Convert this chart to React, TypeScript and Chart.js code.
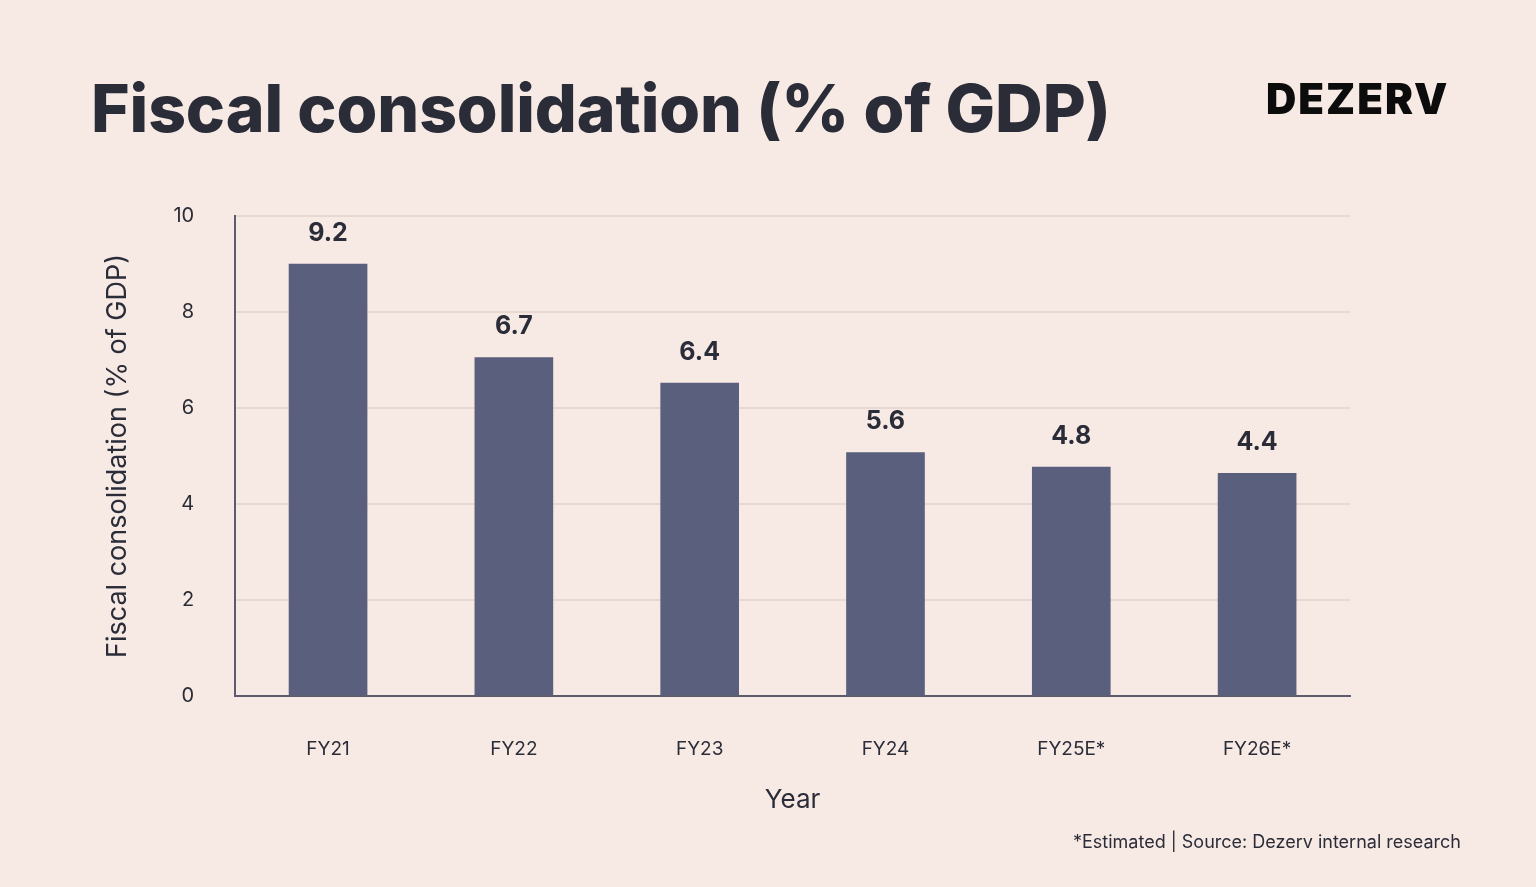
import React, { useEffect, useRef } from "react";
import { Chart, registerables } from "chart.js";

Chart.register(...registerables);

const categories = ["FY21", "FY22", "FY23", "FY24", "FY25E*", "FY26E*"];
const barValues = [9.0, 7.05, 6.52, 5.07, 4.77, 4.64];
const valueLabels = ["9.2", "6.7", "6.4", "5.6", "4.8", "4.4"];
const yTicks = [0, 2, 4, 6, 8, 10];

const BG = "#f7e9e4";
const BAR = "#5b5f7e";
const DARK = "#2a2c38";
const FONT = "Inter, 'Open Sans', sans-serif";

const labelPlugin = {
  id: "valueLabels",
  afterDatasetsDraw(chart: any) {
    const { ctx } = chart;
    const meta = chart.getDatasetMeta(0);
    ctx.save();
    ctx.fillStyle = DARK;
    ctx.font = `700 25px ${FONT}`;
    ctx.textAlign = "center";
    ctx.textBaseline = "middle";
    meta.data.forEach((el: any, i: number) => {
      ctx.fillText(valueLabels[i], el.x, el.y - 31);
    });
    ctx.restore();
  },
};

export default function App() {
  const ref = useRef<HTMLCanvasElement>(null);
  useEffect(() => {
    document.body.style.margin = "0";
    const chart = new Chart(ref.current!, {
      type: "bar",
      data: {
        labels: categories,
        datasets: [
          {
            data: barValues,
            backgroundColor: BAR,
            barThickness: 78,
          },
        ],
      },
      options: {
        animation: false,
        responsive: false,
        maintainAspectRatio: false,
        layout: { padding: { left: 102, top: 216, right: 186, bottom: 71 } },
        plugins: { legend: { display: false }, tooltip: { enabled: false } },
        scales: {
          x: {
            grid: { display: false, drawTicks: false },
            border: { display: true, color: "#5c5c6c", width: 2 },
            ticks: {
              color: DARK,
              font: { family: FONT, size: 19 },
              padding: 42,
            },
            title: {
              display: true,
              text: "Year",
              color: DARK,
              font: { family: FONT, size: 26 },
              padding: { top: -18, bottom: 0 },
            },
          },
          y: {
            min: 0,
            max: 10,
            afterBuildTicks: (axis: any) => {
              axis.ticks = yTicks.map((v) => ({ value: v }));
            },
            grid: { color: "#e9d7d1", lineWidth: 2, drawTicks: false },
            border: { display: true, color: "#5c5c6c", width: 2 },
            ticks: {
              color: DARK,
              font: { family: FONT, size: 20 },
              padding: 41,
            },
            title: {
              display: true,
              text: "Fiscal consolidation (% of GDP)",
              color: DARK,
              font: { family: FONT, size: 27 },
              padding: { top: 0, bottom: -2 },
            },
          },
        },
      },
      plugins: [labelPlugin],
    });
    return () => chart.destroy();
  }, []);

  return (
    <div
      style={{
        position: "fixed",
        left: 0,
        top: 0,
        width: 1536,
        height: 887,
        background: BG,
        fontFamily: FONT,
        color: DARK,
        overflow: "hidden",
      }}
    >
      <canvas
        ref={ref}
        width={1536}
        height={887}
        style={{ position: "absolute", left: 0, top: 0, width: 1536, height: 887 }}
      />
      <div
        style={{
          position: "absolute",
          left: 91,
          top: 63,
          fontSize: 66,
          fontWeight: 800,
          letterSpacing: -0.1,
          whiteSpace: "nowrap",
          lineHeight: "90px",
        }}
      >
        Fiscal consolidation (% of GDP)
      </div>
      <div
        style={{
          position: "absolute",
          left: 1266,
          top: 74,
          fontSize: 42,
          fontWeight: 900,
          letterSpacing: 2,
          color: "#0c0c0c",
          lineHeight: "50px",
        }}
      >
        DEZERV
      </div>
      <div
        style={{
          position: "absolute",
          right: 75,
          top: 830,
          fontSize: 18,
          lineHeight: "24px",
          whiteSpace: "nowrap",
        }}
      >
        *Estimated | Source: Dezerv internal research
      </div>
    </div>
  );
}
